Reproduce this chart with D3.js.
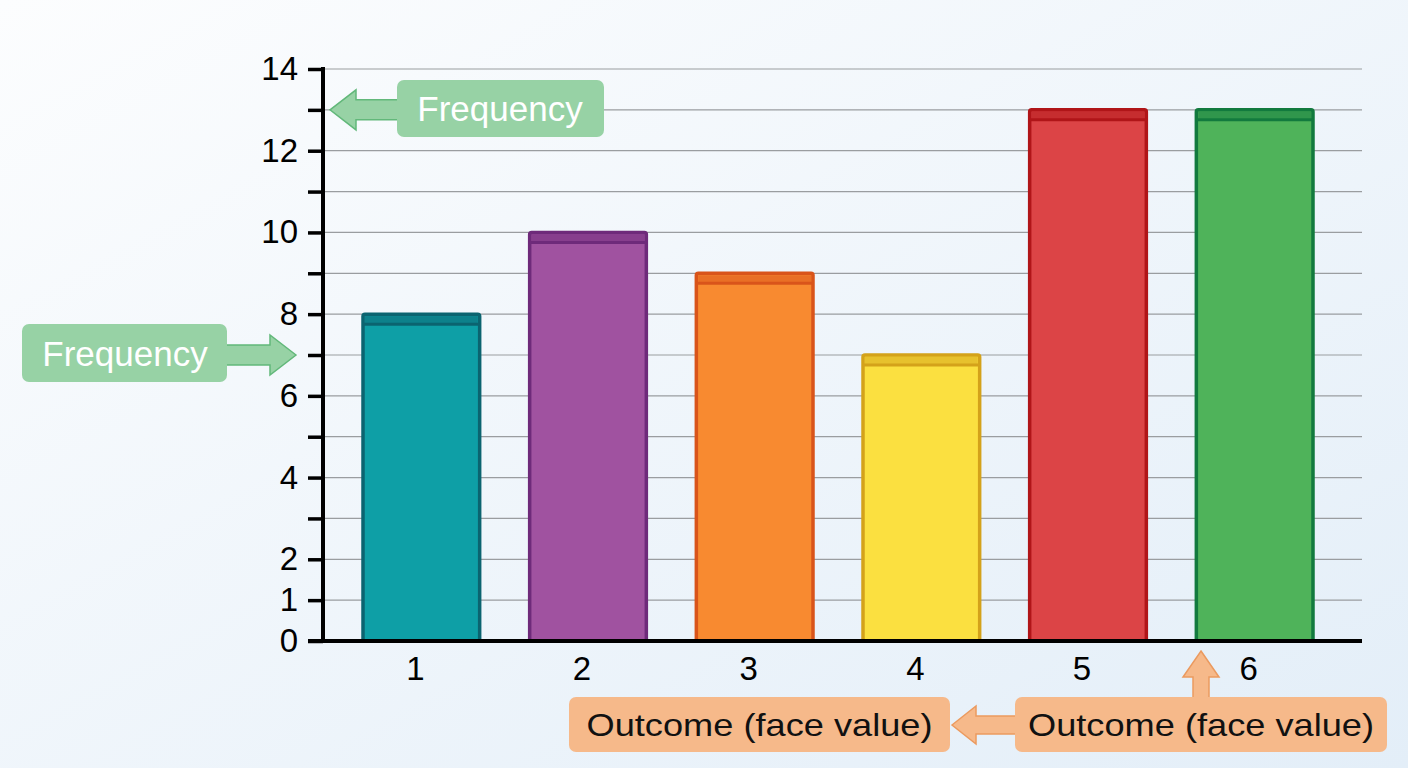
<!DOCTYPE html>
<html>
<head>
<meta charset="utf-8">
<script src="https://cdn.jsdelivr.net/npm/d3@7"></script>
<style>
  html, body { margin: 0; padding: 0; }
  body { width: 1408px; height: 768px; overflow: hidden; }
</style>
</head>
<body>
<div id="chart"></div>
<script>
// data
var outcomes = ["1", "2", "3", "4", "5", "6"];
var frequencies = [8, 10, 9, 7, 13, 13];
var fillColors = ["#0e9fa6", "#a052a0", "#f88a30", "#fbe040", "#dc4446", "#4fb35a"];
var strokeColors = ["#0b6470", "#6e2a7a", "#d9541a", "#d4a21a", "#b01518", "#127a3e"];
var yTickLabels = [0, 1, 2, 4, 6, 8, 10, 12, 14];
var yTicks = d3.range(0, 15);

var w = 1408;
var h = 768;

var svg = d3.select("#chart")
    .append("svg")
    .attr("width", w)
    .attr("height", h);

// background
var defs = svg.append("defs");
var grad = defs.append("linearGradient")
    .attr("id", "bg")
    .attr("x1", "0").attr("y1", "0")
    .attr("x2", "1").attr("y2", "1");
grad.append("stop").attr("offset", "0%").attr("stop-color", "#fcfdfe");
grad.append("stop").attr("offset", "100%").attr("stop-color", "#e3eef8");

svg.append("rect")
    .attr("width", w)
    .attr("height", h)
    .attr("fill", "url(#bg)");

var x = d3.scaleBand()
    .domain(outcomes)
    .range([313, 1363])
    .paddingInner(0.3)
    .paddingOuter(0.3);

var y = d3.scaleLinear()
    .domain([0, 14])
    .range([641, 69]);

var axisX = 323;
var gridRight = 1362;
var font = "'Liberation Sans', Arial, sans-serif";

// gridlines
svg.append("g")
    .selectAll("line")
    .data(yTicks.slice(1))
    .enter()
    .append("line")
    .attr("x1", axisX)
    .attr("x2", gridRight)
    .attr("y1", function (d) { return y(d); })
    .attr("y2", function (d) { return y(d); })
    .attr("stroke", "#9a9da0")
    .attr("stroke-width", 1.2);

// bars
var bars = svg.append("g")
    .selectAll("g")
    .data(frequencies)
    .enter()
    .append("g");

bars.append("rect")
    .attr("x", function (d, i) { return x(outcomes[i]); })
    .attr("y", function (d) { return y(d); })
    .attr("width", x.bandwidth())
    .attr("height", function (d) { return y(0) - y(d); })
    .attr("rx", 2)
    .attr("fill", function (d, i) { return fillColors[i]; })
    .attr("stroke", function (d, i) { return strokeColors[i]; })
    .attr("stroke-width", 3.5);

// darker lid at the top of each bar
bars.append("rect")
    .attr("x", function (d, i) { return x(outcomes[i]) + 2; })
    .attr("y", function (d) { return y(d) + 2; })
    .attr("width", x.bandwidth() - 4)
    .attr("height", 7)
    .attr("fill", function (d, i) { return strokeColors[i]; })
    .attr("opacity", 0.5);

bars.append("line")
    .attr("x1", function (d, i) { return x(outcomes[i]); })
    .attr("x2", function (d, i) { return x(outcomes[i]) + x.bandwidth(); })
    .attr("y1", function (d) { return y(d) + 10; })
    .attr("y2", function (d) { return y(d) + 10; })
    .attr("stroke", function (d, i) { return strokeColors[i]; })
    .attr("stroke-width", 3);

// y axis
var yAxis = d3.axisLeft(y)
    .tickValues(yTicks)
    .tickSize(15)
    .tickPadding(10)
    .tickFormat(function (d) { return yTickLabels.indexOf(d) >= 0 ? d : ""; });

var gy = svg.append("g")
    .attr("transform", "translate(" + axisX + ",0)")
    .call(yAxis)
    .attr("font-family", font)
    .attr("font-size", 33);
gy.select(".domain").remove();
gy.selectAll(".tick line").attr("stroke", "#000").attr("stroke-width", 3.5);
gy.selectAll(".tick text").attr("fill", "#000");
gy.append("line")
    .attr("x1", 0).attr("x2", 0)
    .attr("y1", y(14) - 2).attr("y2", y(0))
    .attr("stroke", "#000")
    .attr("stroke-width", 4);

// x axis
var xAxis = d3.axisBottom(x).tickSize(0).tickPadding(16);
var gx = svg.append("g")
    .attr("transform", "translate(0," + y(0) + ")")
    .call(xAxis)
    .attr("font-family", font)
    .attr("font-size", 33);
gx.select(".domain").remove();
gx.selectAll(".tick text")
    .attr("fill", "#000")
    .attr("dx", -6);
gx.append("line")
    .attr("x1", 308).attr("x2", gridRight)
    .attr("y1", 0).attr("y2", 0)
    .attr("stroke", "#000")
    .attr("stroke-width", 4);

// arrow helper: tip at (tx,ty), pointing in direction dir
function arrowPath(tx, ty, len, dir, shaft, headW, headL) {
    var pts;
    var s = shaft / 2, hw = headW / 2;
    if (dir === "left") {
        pts = [[tx, ty], [tx + headL, ty - hw], [tx + headL, ty - s], [tx + len, ty - s],
               [tx + len, ty + s], [tx + headL, ty + s], [tx + headL, ty + hw]];
    } else if (dir === "right") {
        pts = [[tx, ty], [tx - headL, ty - hw], [tx - headL, ty - s], [tx - len, ty - s],
               [tx - len, ty + s], [tx - headL, ty + s], [tx - headL, ty + hw]];
    } else {
        pts = [[tx, ty], [tx + hw, ty + headL], [tx + s, ty + headL], [tx + s, ty + len],
               [tx - s, ty + len], [tx - s, ty + headL], [tx - hw, ty + headL]];
    }
    return "M" + pts.map(function (p) { return p.join(","); }).join("L") + "Z";
}

var greenFill = "#97d2a5";
var greenStroke = "#62b87a";
var orangeFill = "#f6b98a";
var orangeStroke = "#eb9a5f";

// green "Frequency" labels
svg.append("path")
    .attr("d", arrowPath(axisX + 7, y(13), 72, "left", 20, 40, 26))
    .attr("fill", greenFill)
    .attr("stroke", greenStroke)
    .attr("stroke-width", 1.5);
svg.append("rect")
    .attr("x", 397).attr("y", 80).attr("width", 207).attr("height", 57)
    .attr("rx", 7).attr("fill", greenFill);
svg.append("text")
    .attr("x", 500).attr("y", 121)
    .attr("text-anchor", "middle")
    .attr("font-family", font)
    .attr("font-size", 35)
    .attr("fill", "#fff")
    .text("Frequency");

svg.append("path")
    .attr("d", arrowPath(axisX - 27, y(7), 72, "right", 20, 40, 26))
    .attr("fill", greenFill)
    .attr("stroke", greenStroke)
    .attr("stroke-width", 1.5);
svg.append("rect")
    .attr("x", 22).attr("y", 324).attr("width", 205).attr("height", 58)
    .attr("rx", 7).attr("fill", greenFill);
svg.append("text")
    .attr("x", 125).attr("y", 366)
    .attr("text-anchor", "middle")
    .attr("font-family", font)
    .attr("font-size", 35)
    .attr("fill", "#fff")
    .text("Frequency");

// orange "Outcome (face value)" labels
svg.append("path")
    .attr("d", arrowPath(952, 725, 68, "left", 18, 38, 24))
    .attr("fill", orangeFill)
    .attr("stroke", orangeStroke)
    .attr("stroke-width", 1.5);
svg.append("path")
    .attr("d", arrowPath(1201, y(0) + 10, 50, "up", 16, 36, 26))
    .attr("fill", orangeFill)
    .attr("stroke", orangeStroke)
    .attr("stroke-width", 1.5);

var outBoxes = [[569, 697, 381, 55], [1015, 697, 372, 55]];
outBoxes.forEach(function (b) {
    svg.append("rect")
        .attr("x", b[0]).attr("y", b[1]).attr("width", b[2]).attr("height", b[3])
        .attr("rx", 7).attr("fill", orangeFill);
    svg.append("text")
        .attr("x", b[0] + b[2] / 2).attr("y", b[1] + 39)
        .attr("text-anchor", "middle")
        .attr("font-family", font)
        .attr("font-size", 32)
        .attr("textLength", 346)
        .attr("lengthAdjust", "spacingAndGlyphs")
        .attr("fill", "#111")
        .text("Outcome (face value)");
});
</script>
</body>
</html>
